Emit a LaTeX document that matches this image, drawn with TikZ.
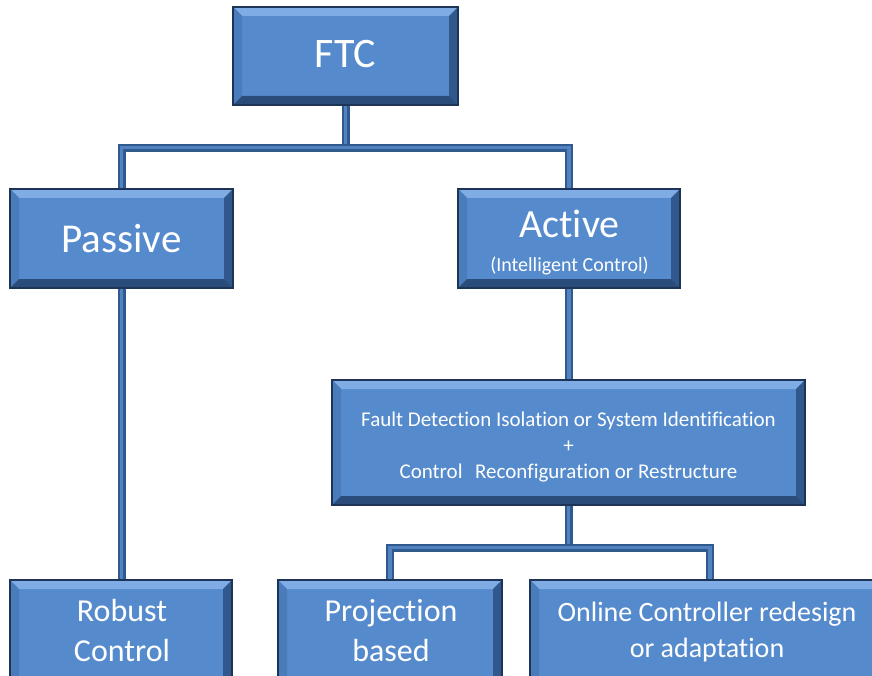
\documentclass[tikz,border=0pt]{standalone}
\usepackage{fontspec}
\setmainfont{Carlito}[Ligatures=NoCommon]
\usetikzlibrary{calc}

\definecolor{boxfill}{RGB}{85,139,204}
\definecolor{bevtop}{RGB}{128,172,230}
\definecolor{bevleft}{RGB}{74,124,188}
\definecolor{bevright}{RGB}{48,88,140}
\definecolor{bevbottom}{RGB}{42,76,122}
\definecolor{boxedge}{RGB}{28,52,86}
\definecolor{linkdark}{RGB}{48,90,142}
\definecolor{linklight}{RGB}{82,130,192}

\newcommand{\bv}{9pt}

\tikzset{
  bevelbox/.style={rectangle, inner sep=0pt, fill=boxfill, draw=boxedge, line width=1.2pt,
    path picture={
      \coordinate (pNW) at (path picture bounding box.north west);
      \coordinate (pNE) at (path picture bounding box.north east);
      \coordinate (pSW) at (path picture bounding box.south west);
      \coordinate (pSE) at (path picture bounding box.south east);
      \fill[bevtop] (pNW) -- (pNE) -- ($(pNE)+(-\bv,-\bv)$) -- ($(pNW)+(\bv,-\bv)$) -- cycle;
      \fill[bevleft] (pNW) -- ($(pNW)+(\bv,-\bv)$) -- ($(pSW)+(\bv,\bv)$) -- (pSW) -- cycle;
      \fill[bevright] (pNE) -- (pSE) -- ($(pSE)+(-\bv,\bv)$) -- ($(pNE)+(-\bv,-\bv)$) -- cycle;
      \fill[bevbottom] (pSW) -- ($(pSW)+(\bv,\bv)$) -- ($(pSE)+(-\bv,\bv)$) -- (pSE) -- cycle;
    }},
  lbl/.style={text=white, inner sep=0pt, anchor=base},
  link/.style={line width=8pt, draw=linkdark, line join=miter,
    postaction={draw=linklight, line width=3.5pt}},
}

\begin{document}
\begin{tikzpicture}[x=1pt, y=-1pt]
\useasboundingbox (0,0) rectangle (872,676);

% boxes
\node[bevelbox, minimum width=225pt, minimum height=98pt] (ftc) at (345.5,56) {};
\node[bevelbox, minimum width=223pt, minimum height=99pt] (passive) at (121.5,238.5) {};
\node[bevelbox, minimum width=222pt, minimum height=99pt] (active) at (569,238.5) {};
\node[bevelbox, minimum width=473pt, minimum height=125pt] (fdi) at (568.5,442.5) {};
\node[bevelbox, minimum width=222pt, minimum height=110pt] (robust) at (121,635) {};
\node[bevelbox, minimum width=224pt, minimum height=110pt] (proj) at (390,635) {};
\node[bevelbox, minimum width=360pt, minimum height=110pt] (online) at (710,635) {};

% labels
\node[lbl, font=\fontsize{42}{42}\selectfont] (tftc) at (345.5,68) {FTC};
\node[lbl, font=\fontsize{41}{41}\selectfont] (tpassive) at (121.5,252) {Passive};
\node[lbl, font=\fontsize{40}{40}\selectfont] (tactive) at (569.5,237) {Active};
\node[lbl, font=\fontsize{20}{20}\selectfont] (tactsub) at (569.5,271) {(Intelligent Control)};
\node[lbl, font=\fontsize{21}{21}\selectfont] (tfdiA) at (568.5,426) {Fault Detection Isolation or System Identification};
\node[lbl, font=\fontsize{21}{21}\selectfont] (tfdiB) at (568.5,452) {+};
\node[lbl, font=\fontsize{21}{21}\selectfont] (tfdiC) at (568.5,478) {Control\hspace{0.6em}Reconfiguration or Restructure};
\node[lbl, font=\fontsize{32}{32}\selectfont] (trobA) at (122,621) {Robust};
\node[lbl, font=\fontsize{32}{32}\selectfont] (trobB) at (122,661) {Control};
\node[lbl, font=\fontsize{32}{32}\selectfont] (tprojA) at (391,621) {Projection};
\node[lbl, font=\fontsize{32}{32}\selectfont] (tprojB) at (391,661) {based};
\node[lbl, font=\fontsize{28}{28}\selectfont] (tonlA) at (707,621) {Online Controller redesign};
\node[lbl, font=\fontsize{28}{28}\selectfont] (tonlB) at (707,657) {or adaptation};

% junctions of the two brackets
\coordinate (j1) at ($(ftc.south)+(0,-42pt)$);
\coordinate (j2) at ($(fdi.south)+(0,-42pt)$);

% connectors
\draw[link] (ftc.south) -- (j1);
\draw[link] (passive.north) |- (j1) -| (active.north);
\draw[link] (passive.south) -- (passive.south |- robust.north);
\draw[link] (active.south) -- (active.south |- fdi.north);
\draw[link] (fdi.south) -- (j2);
\draw[link] (proj.north) |- (j2) -| (online.north);
\end{tikzpicture}
\end{document}
